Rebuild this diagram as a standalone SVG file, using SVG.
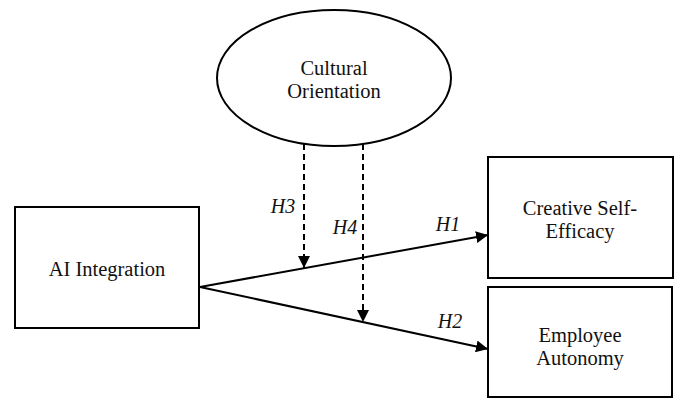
<svg xmlns="http://www.w3.org/2000/svg" width="676" height="408" viewBox="0 0 676 408">
<style>
.box{fill:#fff;stroke:#000;stroke-width:2}
.lbl{font-size:20.5px;fill:#111;text-anchor:middle}
.h{font-size:20px;font-style:italic;fill:#111;text-anchor:middle}
.ln{stroke:#000;stroke-width:2;fill:none}
.dash{stroke:#000;stroke-width:2;fill:none;stroke-dasharray:6 4}
</style>
<defs>
<marker id="arr" viewBox="0 0 12 12" markerWidth="12" markerHeight="12" refX="12" refY="6" orient="auto" markerUnits="userSpaceOnUse">
<path d="M0,0 L12,6 L0,12 z" fill="#000"/>
</marker>
</defs>
<rect width="676" height="408" fill="#fff"/>
<g font-family="Liberation Serif, DejaVu Serif, serif">
<g id="connectors">
<line class="ln" x1="200" y1="287" x2="488" y2="235" marker-end="url(#arr)"/>
<line class="ln" x1="200" y1="287" x2="488" y2="349" marker-end="url(#arr)"/>
<line class="dash" x1="304" y1="144" x2="304" y2="268" marker-end="url(#arr)"/>
<line class="dash" x1="363" y1="144" x2="363" y2="322" marker-end="url(#arr)"/>
<text class="h" x="448" y="231">H1</text>
<text class="h" x="450" y="328">H2</text>
<text class="h" x="283" y="213">H3</text>
<text class="h" x="345" y="234">H4</text>
</g>
<g id="cultural">
<ellipse cx="334" cy="78" rx="117" ry="68" fill="#fff" stroke="#000" stroke-width="2"/>
<text class="lbl" x="334" y="75">Cultural</text>
<text class="lbl" x="334" y="98">Orientation</text>
</g>
<g id="ai">
<rect class="box" x="15" y="207" width="184" height="121"/>
<text class="lbl" x="107" y="276">AI Integration</text>
</g>
<g id="cse">
<rect class="box" x="488" y="157" width="185" height="121"/>
<text class="lbl" x="580" y="215">Creative Self-</text>
<text class="lbl" x="580" y="238">Efficacy</text>
</g>
<g id="ea">
<rect class="box" x="488" y="287" width="184" height="110"/>
<text class="lbl" x="580" y="342">Employee</text>
<text class="lbl" x="580" y="365">Autonomy</text>
</g>
</g>
</svg>
